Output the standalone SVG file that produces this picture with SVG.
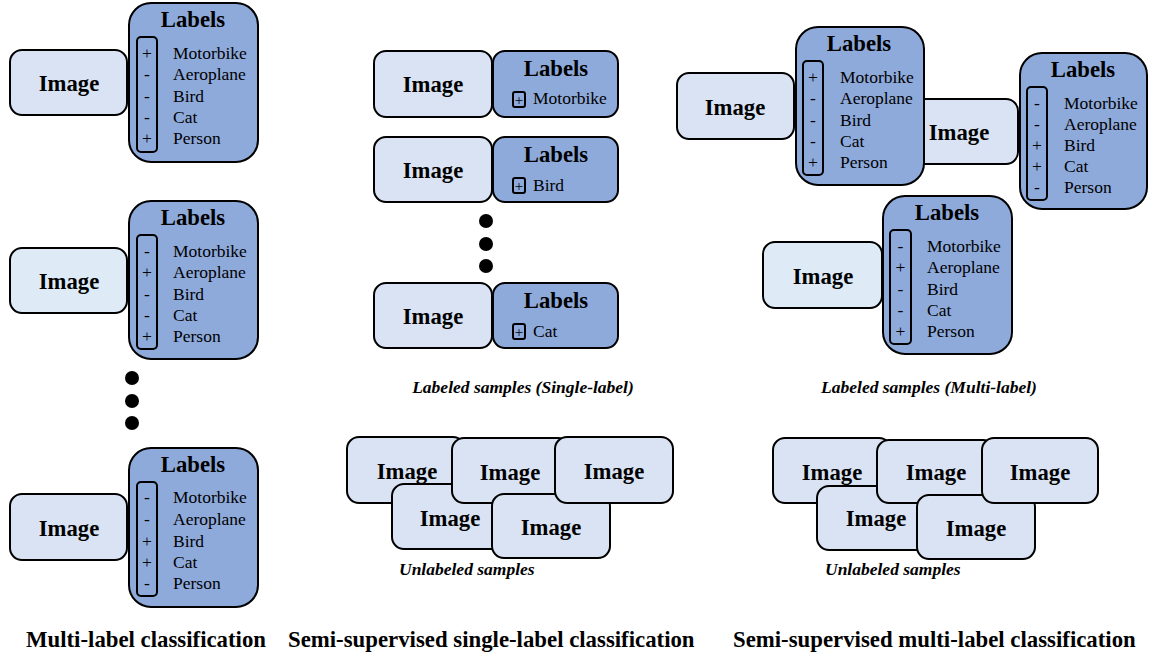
<svg xmlns="http://www.w3.org/2000/svg" width="1151" height="657" viewBox="0 0 1151 657">
<style>
.img{fill:#dae3f3;stroke:#000;stroke-width:2}
.img2{fill:#deebf7;stroke:#000;stroke-width:2}
.lab{fill:#8eaadb;stroke:#000;stroke-width:2}
.sig{fill:none;stroke:#000;stroke-width:2}
.t{font-family:"Liberation Serif","Times New Roman",serif;fill:#000}
.it{font-size:22.7px;font-weight:bold;text-anchor:middle}
.lt{font-size:22.7px;font-weight:bold;text-anchor:middle}
.li{font-size:17.5px}
.sg{font-size:17.5px;text-anchor:middle}
.cap{font-size:17.5px;font-weight:bold;font-style:italic}
.ttl{font-size:22.8px;font-weight:bold}
</style>
<rect width="1151" height="657" fill="#fff"/>

<!-- Column 1 -->
<g id="c1r1">
<rect class="img" x="10" y="50" width="117" height="65" rx="12"/>
<text class="t it" x="69" y="91">Image</text>
<rect class="lab" x="129" y="3" width="129" height="159" rx="22"/>
<text class="t lt" x="193" y="27">Labels</text>
<rect class="sig" x="137" y="37" width="20" height="115" rx="4"/>
<text class="t sg" x="147" y="59">+</text><text class="t sg" x="147" y="80">-</text><text class="t sg" x="147" y="101.5">-</text><text class="t sg" x="147" y="122.5">-</text><text class="t sg" x="147" y="144">+</text>
<text class="t li" x="173" y="59">Motorbike</text><text class="t li" x="173" y="80">Aeroplane</text><text class="t li" x="173" y="101.5">Bird</text><text class="t li" x="173" y="122.5">Cat</text><text class="t li" x="173" y="144">Person</text>
</g>
<g id="c1r2">
<rect class="img2" x="10" y="248" width="117" height="65" rx="12"/>
<text class="t it" x="69" y="289">Image</text>
<rect class="lab" x="129" y="201" width="129" height="158" rx="22"/>
<text class="t lt" x="193" y="225">Labels</text>
<rect class="sig" x="137" y="235" width="20" height="114" rx="4"/>
<text class="t sg" x="147" y="257">-</text><text class="t sg" x="147" y="278">+</text><text class="t sg" x="147" y="299.5">-</text><text class="t sg" x="147" y="320.5">-</text><text class="t sg" x="147" y="342">+</text>
<text class="t li" x="173" y="257">Motorbike</text><text class="t li" x="173" y="278">Aeroplane</text><text class="t li" x="173" y="299.5">Bird</text><text class="t li" x="173" y="320.5">Cat</text><text class="t li" x="173" y="342">Person</text>
</g>
<g id="c1dots">
<circle cx="132" cy="378" r="7"/><circle cx="132" cy="401" r="7"/><circle cx="132" cy="423" r="7"/>
</g>
<g id="c1r3">
<rect class="img" x="10" y="494" width="117" height="66" rx="12"/>
<text class="t it" x="69" y="536">Image</text>
<rect class="lab" x="129" y="448" width="129" height="159" rx="22"/>
<text class="t lt" x="193" y="472">Labels</text>
<rect class="sig" x="137" y="482" width="20" height="114" rx="4"/>
<text class="t sg" x="147" y="503">-</text><text class="t sg" x="147" y="525">-</text><text class="t sg" x="147" y="546.5">+</text><text class="t sg" x="147" y="567.5">+</text><text class="t sg" x="147" y="589">-</text>
<text class="t li" x="173" y="503">Motorbike</text><text class="t li" x="173" y="525">Aeroplane</text><text class="t li" x="173" y="546.5">Bird</text><text class="t li" x="173" y="567.5">Cat</text><text class="t li" x="173" y="589">Person</text>
</g>
<text class="t ttl" x="26" y="647">Multi-label classification</text>

<!-- Column 2 -->
<g id="c2r1">
<rect class="img" x="374" y="51" width="118" height="66" rx="12"/>
<text class="t it" x="433" y="92">Image</text>
<rect class="lab" x="493" y="51" width="125" height="66" rx="12"/>
<text class="t lt" x="556" y="76">Labels</text>
<rect class="sig" x="513" y="92" width="12" height="15" rx="2" stroke-width="1.5"/>
<text class="t" x="519" y="105" font-size="15" text-anchor="middle">+</text>
<text class="t li" x="533" y="104">Motorbike</text>
</g>
<g id="c2r2">
<rect class="img" x="374" y="137" width="118" height="65" rx="12"/>
<text class="t it" x="433" y="178">Image</text>
<rect class="lab" x="493" y="137" width="125" height="65" rx="12"/>
<text class="t lt" x="556" y="162">Labels</text>
<rect class="sig" x="513" y="178" width="12" height="15" rx="2" stroke-width="1.5"/>
<text class="t" x="519" y="191" font-size="15" text-anchor="middle">+</text>
<text class="t li" x="533" y="191">Bird</text>
</g>
<g id="c2dots">
<circle cx="486" cy="221" r="7"/><circle cx="486" cy="244" r="7"/><circle cx="486" cy="266" r="7"/>
</g>
<g id="c2r3">
<rect class="img" x="374" y="283" width="118" height="65" rx="12"/>
<text class="t it" x="433" y="324">Image</text>
<rect class="lab" x="493" y="283" width="125" height="65" rx="12"/>
<text class="t lt" x="556" y="308">Labels</text>
<rect class="sig" x="513" y="324" width="12" height="15" rx="2" stroke-width="1.5"/>
<text class="t" x="519" y="337" font-size="15" text-anchor="middle">+</text>
<text class="t li" x="533" y="337">Cat</text>
</g>
<text class="t cap" x="523" y="393" text-anchor="middle">Labeled samples (Single-label)</text>

<g id="c2unl">
<rect class="img" x="347" y="437" width="118" height="66" rx="12"/>
<text class="t it" x="407" y="479">Image</text>
<rect class="img" x="392" y="484" width="118" height="65" rx="12"/>
<text class="t it" x="450" y="526">Image</text>
<rect class="img" x="452" y="438" width="118" height="65" rx="12"/>
<text class="t it" x="510" y="480">Image</text>
<rect class="img" x="492" y="494" width="118" height="64" rx="12"/>
<text class="t it" x="551" y="535">Image</text>
<rect class="img" x="555" y="437" width="118" height="66" rx="12"/>
<text class="t it" x="614" y="479">Image</text>
</g>
<text class="t cap" x="399" y="575">Unlabeled samples</text>
<text class="t ttl" x="288" y="647">Semi-supervised single-label classification</text>

<!-- Column 3 -->
<g id="c3a">
<rect class="img" x="677" y="73" width="117" height="66" rx="12"/>
<text class="t it" x="735" y="115">Image</text>
</g>
<g id="c3b">
<rect class="img" x="900" y="99" width="118" height="65" rx="12"/>
<text class="t it" x="959" y="140">Image</text>
</g>
<g id="c3al">
<rect class="lab" x="796" y="27" width="128" height="158" rx="22"/>
<text class="t lt" x="859" y="51">Labels</text>
<rect class="sig" x="803" y="61" width="20" height="114" rx="4"/>
<text class="t sg" x="813" y="83">+</text><text class="t sg" x="813" y="104">-</text><text class="t sg" x="813" y="125.5">-</text><text class="t sg" x="813" y="146.5">-</text><text class="t sg" x="813" y="168">+</text>
<text class="t li" x="840" y="83">Motorbike</text><text class="t li" x="840" y="104">Aeroplane</text><text class="t li" x="840" y="125.5">Bird</text><text class="t li" x="840" y="146.5">Cat</text><text class="t li" x="840" y="168">Person</text>
</g>
<g id="c3bl">
<rect class="lab" x="1020" y="53" width="127" height="156" rx="22"/>
<text class="t lt" x="1083" y="77">Labels</text>
<rect class="sig" x="1027" y="87" width="20" height="113" rx="4"/>
<text class="t sg" x="1037" y="109">-</text><text class="t sg" x="1037" y="130">-</text><text class="t sg" x="1037" y="151">+</text><text class="t sg" x="1037" y="172">+</text><text class="t sg" x="1037" y="193">-</text>
<text class="t li" x="1064" y="109">Motorbike</text><text class="t li" x="1064" y="130">Aeroplane</text><text class="t li" x="1064" y="151">Bird</text><text class="t li" x="1064" y="172">Cat</text><text class="t li" x="1064" y="193">Person</text>
</g>
<g id="c3c">
<rect class="img2" x="763" y="242" width="119" height="66" rx="12"/>
<text class="t it" x="823" y="284">Image</text>
<rect class="lab" x="883" y="196" width="129" height="158" rx="22"/>
<text class="t lt" x="947" y="220">Labels</text>
<rect class="sig" x="890" y="230" width="21" height="114" rx="4"/>
<text class="t sg" x="900.5" y="252">-</text><text class="t sg" x="900.5" y="273">+</text><text class="t sg" x="900.5" y="294.5">-</text><text class="t sg" x="900.5" y="315.5">-</text><text class="t sg" x="900.5" y="337">+</text>
<text class="t li" x="927" y="252">Motorbike</text><text class="t li" x="927" y="273">Aeroplane</text><text class="t li" x="927" y="294.5">Bird</text><text class="t li" x="927" y="315.5">Cat</text><text class="t li" x="927" y="337">Person</text>
</g>
<text class="t cap" x="929" y="393" text-anchor="middle">Labeled samples (Multi-label)</text>

<g id="c3unl">
<rect class="img" x="773" y="438" width="118" height="65" rx="12"/>
<text class="t it" x="832" y="480">Image</text>
<rect class="img" x="817" y="486" width="118" height="64" rx="12"/>
<text class="t it" x="876" y="526">Image</text>
<rect class="img" x="877" y="440" width="118" height="63" rx="12"/>
<text class="t it" x="936" y="480">Image</text>
<rect class="img" x="917" y="495" width="118" height="64" rx="12"/>
<text class="t it" x="976" y="536">Image</text>
<rect class="img" x="982" y="438" width="116" height="65" rx="12"/>
<text class="t it" x="1040" y="480">Image</text>
</g>
<text class="t cap" x="825" y="575">Unlabeled samples</text>
<text class="t ttl" x="733" y="647">Semi-supervised multi-label classification</text>
</svg>
